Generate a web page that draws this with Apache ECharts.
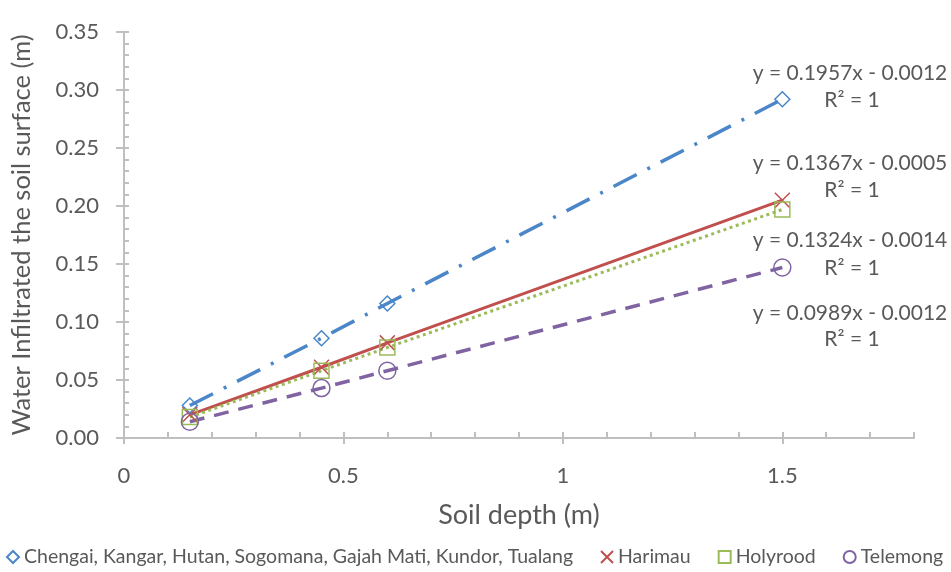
<!DOCTYPE html>
<html>
<head>
<meta charset="utf-8">
<script src="https://cdn.jsdelivr.net/npm/echarts@6/dist/echarts.min.js"></script>
<style>
html,body{margin:0;padding:0;background:#fff;}
#chart{width:951px;height:572px;}
</style>
</head>
<body>
<div id="chart"></div>
<script>
var xDepth = [0.15, 0.45, 0.6, 1.5];
var seriesNames = ['Chengai, Kangar, Hutan, Sogomana, Gajah Mati, Kundor, Tualang', 'Harimau', 'Holyrood', 'Telemong'];
var chengaiValues = [0.028, 0.086, 0.116, 0.292];
var harimauValues = [0.020, 0.061, 0.082, 0.205];
var holyroodValues = [0.018, 0.058, 0.078, 0.197];
var telemongValues = [0.014, 0.043, 0.058, 0.147];
var equationLabels = ['y = 0.1957x - 0.0012', 'y = 0.1367x - 0.0005', 'y = 0.1324x - 0.0014', 'y = 0.0989x - 0.0012'];
var r2Labels = ['R² = 1', 'R² = 1', 'R² = 1', 'R² = 1'];
var xTickLabels = [0, 0.5, 1, 1.5];

var FONT = 'Lato, "Open Sans", sans-serif';
var TXT = '#595959';
var AX = '#BFBFBF';
var colors = ['#4A86C8', '#C0504D', '#9BBB59', '#8064A2'];
var xPath = 'path://M0,0L10,10M10,0L0,10';

function pairs(v){ return xDepth.map(function(x,i){ return [x, v[i]]; }); }

var chart = echarts.init(document.getElementById('chart'), null, {renderer:'canvas'});

var graphics = [];
var labelYs = [73, 100, 163, 190, 240, 268, 313, 339];
for (var i = 0; i < 4; i++) {
  graphics.push({type:'text', x:850, y:labelYs[2*i], style:{text:equationLabels[i], font:'21px ' + FONT, fill:TXT, align:'center', verticalAlign:'middle'}});
  graphics.push({type:'text', x:852, y:labelYs[2*i+1], style:{text:r2Labels[i], font:'21px ' + FONT, fill:TXT, align:'center', verticalAlign:'middle'}});
}

var option = {
  animation:false,
  grid:{left:124, right:37, top:32, bottom:134, containLabel:false},
  legend:{
    bottom:0, left:6, width:945, itemGap:27, itemWidth:12, itemHeight:12, padding:[5,0,5,0],
    textStyle:{fontFamily:FONT, fontSize:19.5, color:TXT},
    data:[
      {name:seriesNames[0], icon:'diamond'},
      {name:seriesNames[1], icon:xPath},
      {name:seriesNames[2], icon:'rect'},
      {name:seriesNames[3], icon:'circle'}
    ]
  },
  xAxis:[{
    type:'value', min:0, max:1.8, interval:0.5, position:'bottom',
    name:'Soil depth (m)', nameLocation:'middle', nameGap:64,
    nameTextStyle:{fontFamily:FONT, fontSize:27, color:TXT},
    axisLine:{show:true, onZero:false, lineStyle:{color:AX, width:2}},
    axisTick:{show:true, inside:false, length:6, lineStyle:{color:AX, width:2}, customValues:xTickLabels},
    axisLabel:{fontFamily:FONT, fontSize:22, color:TXT, margin:27, customValues:xTickLabels,
      formatter:function(v){ return Math.abs(v*2-Math.round(v*2))<1e-6 ? String(v) : ''; }},
    splitLine:{show:false}
  },{
    type:'value', min:0, max:1.8, interval:0.1, position:'bottom', offset:0,
    axisLine:{show:false, onZero:false},
    axisTick:{show:true, inside:true, length:6, lineStyle:{color:AX, width:2}},
    axisLabel:{show:false}, splitLine:{show:false}
  }],
  yAxis:[{
    type:'value', min:0, max:0.35, interval:0.05, position:'left',
    name:'Water Infiltrated the soil surface (m)', nameLocation:'middle', nameGap:89,
    nameTextStyle:{fontFamily:FONT, fontSize:25.5, color:TXT},
    axisLine:{show:true, onZero:false, lineStyle:{color:AX, width:2}},
    axisTick:{show:true, inside:false, length:8, lineStyle:{color:AX, width:2}},
    axisLabel:{fontFamily:FONT, fontSize:22, color:TXT, margin:25, formatter:function(v){ return v.toFixed(2); }},
    splitLine:{show:false}
  },{
    type:'value', min:0, max:0.35, interval:0.01, position:'left', offset:0,
    axisLine:{show:false, onZero:false},
    axisTick:{show:true, inside:true, length:5, lineStyle:{color:AX, width:2}},
    axisLabel:{show:false}, splitLine:{show:false}
  }],
  series:[
    {name:seriesNames[0], type:'line', data:pairs(chengaiValues), symbol:'diamond', symbolSize:15,
      lineStyle:{color:colors[0], width:3.5, type:[26,12,3,12]},
      itemStyle:{color:'rgba(255,255,255,0)', borderColor:colors[0], borderWidth:1.5}},
    {name:seriesNames[1], type:'line', data:pairs(harimauValues), symbol:xPath, symbolSize:15,
      lineStyle:{color:colors[1], width:3},
      itemStyle:{color:'rgba(255,255,255,0)', borderColor:colors[1], borderWidth:1.5}},
    {name:seriesNames[2], type:'line', data:pairs(holyroodValues), symbol:'rect', symbolSize:15,
      lineStyle:{color:colors[2], width:3, type:[3,3.5]},
      itemStyle:{color:'rgba(255,255,255,0)', borderColor:colors[2], borderWidth:1.5}},
    {name:seriesNames[3], type:'line', data:pairs(telemongValues), symbol:'circle', symbolSize:17,
      lineStyle:{color:colors[3], width:3.5, type:[15,10]},
      itemStyle:{color:'rgba(255,255,255,0)', borderColor:colors[3], borderWidth:1.5}}
  ],
  graphic:graphics
};
chart.setOption(option);
</script>
</body>
</html>
